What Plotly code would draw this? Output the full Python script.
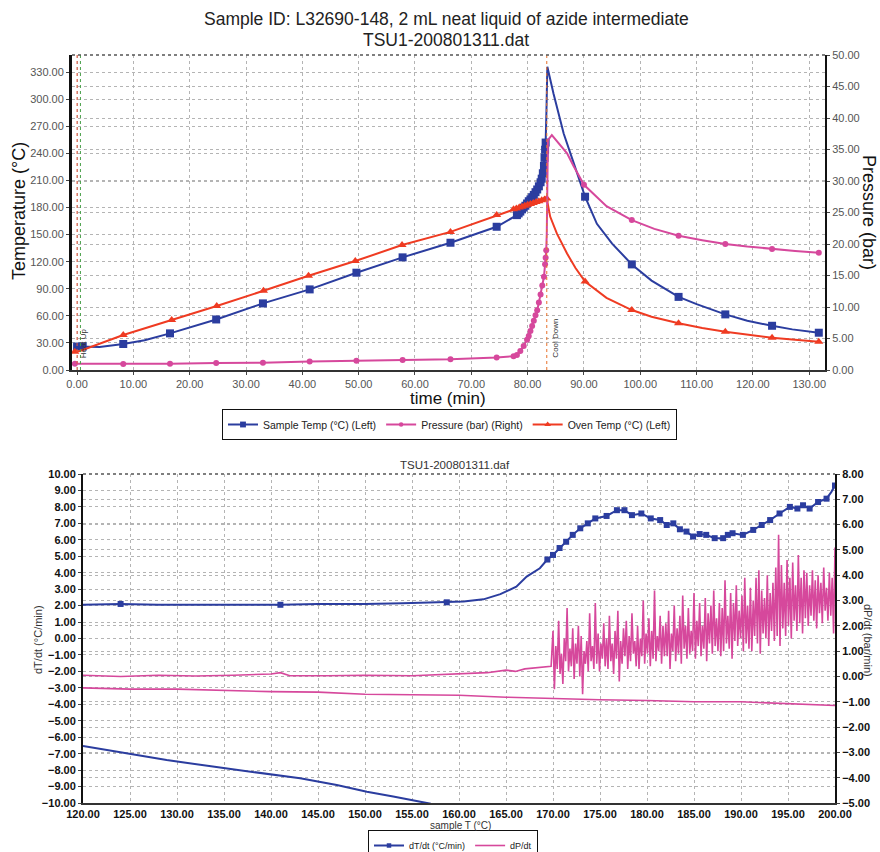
import plotly.graph_objects as go

# ---------------- Top chart data (time in min) ----------------
sample_time = [0, 1, 4, 8.2, 12, 16.5, 24.7, 33.0, 41.3, 49.6, 57.8, 66.3, 74.5,
               78.1, 78.4, 78.7, 79.0, 79.3, 79.6, 79.9, 80.2, 80.5, 80.8, 81.1, 81.4,
               81.7, 82.0, 82.3, 82.5, 82.7, 82.9, 83.0, 83.1, 83.2, 83.35, 83.5,
               84.6, 86.4, 88.2, 89.9, 90.2, 92.3, 95, 98.5, 102, 106.8, 110, 115.1,
               119, 123.4, 127, 131.7]
sample_temp = [26, 26, 25.5, 28.8, 33, 40.6, 56, 73.8, 89.3, 107.8, 124.8, 141, 158.7,
               171.6, 173.5, 175.5, 178, 180, 182, 184.5, 187, 189, 191.5, 194, 197,
               200, 203.5, 208, 212, 218, 226, 235, 244, 252, 290, 336,
               306, 262, 229, 196, 192, 162, 140, 117, 99, 81, 73, 61.6,
               54.5, 49, 45, 41.3]
sample_marked = [0, 1, 8.2, 16.5, 24.7, 33.0, 41.3, 49.6, 57.8, 66.3, 74.5,
                 78.1, 78.4, 78.7, 79.0, 79.3, 79.6, 79.9, 80.2, 80.5, 80.8, 81.1, 81.4,
                 81.7, 82.0, 82.3, 82.5, 82.7, 82.9, 83.0, 83.1, 83.2,
                 90.2, 98.5, 106.8, 115.1, 123.4, 131.7]

oven_time = [-0.4, 0.5, 8.2, 16.8, 24.8, 33.1, 41.1, 49.4, 57.7, 66.3, 74.5, 77.5,
             78.0, 78.5, 79.0, 79.5, 80.0, 80.5, 81.0, 81.5, 82.0, 82.5, 83.0, 83.4,
             84.0, 85.2, 87.0, 88.5, 90.2, 94, 98.5, 102, 106.8, 111, 115.1, 119,
             123.4, 127.5, 131.7]
oven_temp = [20.3, 21, 38.8, 55.4, 70.9, 87.8, 104.5, 120.7, 138.4, 153, 171.6, 178,
             179, 180, 181, 182, 183, 184, 185, 186, 187, 188, 189, 190,
             170, 151, 129, 113, 98, 80, 66.4, 59, 51.7, 46.5, 42.4, 39,
             35.8, 33.5, 31.4]
oven_marked = [-0.4, 8.2, 16.8, 24.8, 33.1, 41.1, 49.4, 57.7, 66.3, 74.5, 77.5,
               78.0, 78.5, 79.0, 79.5, 80.0, 80.5, 81.0, 81.5, 82.0, 82.5, 83.0, 83.4,
               90.2, 98.5, 106.8, 115.1, 123.4, 131.7]

press_time = [-0.4, 8.2, 16.5, 24.7, 33.0, 41.3, 49.6, 57.8, 66.3, 74.5, 77.5,
              78.1, 78.7, 79.3, 79.9, 80.2, 80.5, 80.8, 81.1, 81.4, 81.7, 82.0, 82.3,
              82.6, 82.9, 83.1, 83.2, 83.3, 83.4, 83.5, 83.6, 84.3, 85.5, 87.0,
              88.2, 90.0, 94, 98.5, 102.5, 106.8, 111, 115.1, 119, 123.4, 127.5, 131.7]
press_bar = [1.0, 0.95, 1.0, 1.1, 1.15, 1.35, 1.45, 1.6, 1.7, 2.0, 2.2,
             2.4, 3.0, 3.8, 4.8, 5.4, 6.2, 7.0, 7.8, 8.7, 9.5, 10.7, 12.0,
             13.4, 14.8, 16.8, 17.8, 19.0, 21.7, 28, 36.5, 37.3, 36, 34.4,
             32.3, 29.4, 26, 23.8, 22.4, 21.3, 20.6, 20.0, 19.6, 19.2, 18.9, 18.6]
press_marked = [-0.4, 8.2, 16.5, 24.7, 33.0, 41.3, 49.6, 57.8, 66.3, 74.5, 77.5,
                78.1, 78.7, 79.3, 79.9, 80.2, 80.5, 80.8, 81.1, 81.4, 81.7, 82.0, 82.3,
                82.6, 82.9, 83.1, 83.2, 83.3, 90.0, 98.5, 106.8, 115.1, 123.4, 131.7]

# ---------------- Bottom chart data (sample T in °C) ----------------
dtdt_T = [120, 124, 128, 132, 136, 141, 145, 150, 154, 158.7, 160.5, 162.6, 164.4,
          166.1, 167.2, 168.6, 169.4, 170.0, 170.7, 171.4, 172.1, 172.9, 173.7, 174.5,
          175.7, 176.8, 177.6, 178.4, 179.4, 180.4, 181.4, 182.1, 182.8, 183.5, 184.2,
          184.9, 185.6, 186.3, 187.2, 188.1, 188.6, 189.1, 190.2, 191.3, 192.2, 193.1,
          194.1, 195.2, 196.0, 196.6, 197.3, 198.2, 199.1, 199.6, 200]
dtdt_val = [2.05, 2.1, 2.05, 2.05, 2.05, 2.05, 2.1, 2.1, 2.15, 2.2, 2.25, 2.38, 2.7,
            3.15, 3.76, 4.27, 4.8, 5.08, 5.5, 5.88, 6.3, 6.7, 7.0, 7.3,
            7.45, 7.8, 7.8, 7.5, 7.6, 7.3, 7.2, 6.9, 7.0, 6.64, 6.5,
            6.2, 6.35, 6.3, 6.1, 6.1, 6.3, 6.4, 6.3, 6.6, 6.9, 7.2,
            7.6, 8.0, 7.9, 8.1, 7.9, 8.3, 8.5, 8.9, 9.3]
dtdt_marked = [124, 141, 158.7, 169.4, 170.0, 170.7, 171.4, 172.1, 172.9, 173.7, 174.5,
               175.7, 176.8, 177.6, 178.4, 179.4, 180.4, 181.4, 182.1, 182.8, 183.5,
               184.2, 184.9, 185.6, 186.3, 187.2, 188.1, 188.6, 189.1, 190.2, 191.3,
               192.2, 193.1, 194.1, 195.2, 196.0, 196.6, 197.3, 198.2, 199.1, 200]

cool_dtdt_T = [120, 124, 128.9, 134, 139.5, 143.1, 147, 150.2, 153, 155.9, 157]
cool_dtdt_val = [-6.53, -6.9, -7.39, -7.8, -8.2, -8.5, -8.9, -9.31, -9.6, -9.96, -10.05]

dpdt_T = [120, 124, 128, 132, 136, 140, 141, 142, 146, 150, 155, 160, 163, 165, 166,
          167, 169.8,
          170.0, 170.15, 170.3, 170.45, 170.6, 170.75, 170.9, 171.05, 171.2, 171.35,
          171.5, 171.65, 171.8, 171.95, 172.1, 172.25, 172.4, 172.55, 172.7, 172.85,
          173.0, 173.15, 173.3, 173.45, 173.6, 173.75, 173.9, 174.05, 174.2, 174.35,
          174.5, 174.65, 174.8, 174.95, 175.1, 175.25, 175.4, 175.55, 175.7, 175.85,
          176.0, 176.15, 176.3, 176.45, 176.6, 176.75, 176.9, 177.05, 177.2, 177.35,
          177.5, 177.65, 177.8, 177.95, 178.1, 178.25, 178.4, 178.55, 178.7, 178.85,
          179.0, 179.15, 179.3, 179.45, 179.6, 179.75, 179.9, 180.05, 180.2, 180.35,
          180.5, 180.65, 180.8, 180.95, 181.1, 181.25, 181.4, 181.55, 181.7, 181.85,
          182.0, 182.15, 182.3, 182.45, 182.6, 182.75, 182.9, 183.05, 183.2, 183.35,
          183.5, 183.65, 183.8, 183.95, 184.1, 184.25, 184.4, 184.55, 184.7, 184.85,
          185.0, 185.15, 185.3, 185.45, 185.6, 185.75, 185.9, 186.05, 186.2, 186.35,
          186.5, 186.65, 186.8, 186.95, 187.1, 187.25, 187.4, 187.55, 187.7, 187.85,
          188.0, 188.15, 188.3, 188.45, 188.6, 188.75, 188.9, 189.05, 189.2, 189.35,
          189.5, 189.65, 189.8, 189.95, 190.1, 190.25, 190.4, 190.55, 190.7, 190.85,
          191.0, 191.15, 191.3, 191.45, 191.6, 191.75, 191.9, 192.05, 192.2, 192.35,
          192.5, 192.65, 192.8, 192.95, 193.1, 193.25, 193.4, 193.55, 193.7, 193.85,
          194.0, 194.15, 194.3, 194.45, 194.6, 194.75, 194.9, 195.05, 195.2, 195.35,
          195.5, 195.65, 195.8, 195.95, 196.1, 196.25, 196.4, 196.55, 196.7, 196.85,
          197.0, 197.15, 197.3, 197.45, 197.6, 197.75, 197.9, 198.05, 198.2, 198.35,
          198.5, 198.65, 198.8, 198.95, 199.1, 199.25, 199.4, 199.55, 199.7, 199.85,
          200.0]
dpdt_val = [0.05, 0.0, 0.05, 0.02, 0.05, 0.1, 0.15, 0.03, 0.03, 0.05, 0.03, 0.1, 0.15,
            0.25, 0.2, 0.3, 0.4,
            1.8, -0.5, 1.2, 0.3, 2.2, 0.1, 0.9, -0.3, 1.5, 0.6,
            2.7, 0.2, 1.1, 0.4, 1.9, -0.1, 1.3, 0.5, 2.0, 0.0,
            1.6, -0.7, 1.0, 0.5, 1.4, 0.2, 2.5, 0.6, 1.2, 0.3,
            2.9, 0.5, 1.7, 0.2, 1.3, 0.7, 2.1, 0.4, 1.5, 0.3,
            2.4, 0.6, 1.3, 0.1, 1.8, 0.7, 2.6, -0.2, 1.4, 0.5,
            1.9, 0.8, 2.2, 0.3, 1.6, 0.6, 2.5, 0.9, 1.4, 0.4,
            2.0, 0.3, 1.5, 0.8, 3.0, 0.5, 1.7, 0.9, 2.3, 0.4,
            1.8, 0.7, 3.4, 0.6, 1.6, 1.0, 2.4, 0.5, 2.0, 0.8,
            2.1, 0.8, 2.6, 0.3, 1.7, 1.0, 2.8, 0.6, 1.9, 0.9,
            2.4, 0.5, 3.2, 1.1, 2.0, 0.7, 2.7, 0.9, 1.8, 1.0,
            3.3, 0.7, 2.2, 1.2, 2.9, 0.8, 2.0, 1.1, 3.1, 0.6,
            2.5, 1.3, 2.8, 0.9, 3.4, 1.2, 2.3, 1.0, 2.9, 0.8,
            2.7, 1.0, 3.8, 1.3, 2.4, 1.1, 3.3, 0.7, 2.9, 1.4,
            3.6, 1.2, 2.6, 1.5, 3.2, 1.0, 3.9, 1.3, 2.8, 1.1,
            3.5, 1.0, 3.0, 1.6, 3.9, 1.3, 4.2, 0.9, 3.4, 1.7,
            3.1, 1.5, 4.0, 1.2, 3.3, 1.8, 3.7, 1.4, 4.3, 1.6,
            5.6, 1.2, 4.4, 1.9, 3.7, 1.6, 4.6, 2.0, 3.9, 1.5,
            4.5, 2.2, 3.6, 1.8, 4.8, 2.1, 3.9, 1.7, 4.2, 2.3,
            4.1, 2.0, 3.6, 2.4, 4.2, 2.2, 3.8, 1.9, 4.0, 2.5,
            3.7, 2.1, 4.3, 2.6, 3.5, 2.2, 4.1, 2.4, 3.9, 1.7,
            5.1]

cool_dpdt_T = [120, 125, 130, 135, 140, 145, 150, 155, 160, 165, 170, 175, 180, 185,
               190, 195, 200]
cool_dpdt_val = [-0.45, -0.5, -0.5, -0.55, -0.6, -0.62, -0.7, -0.72, -0.74, -0.82,
                 -0.88, -0.92, -0.95, -1.0, -1.0, -1.08, -1.15]

# ---------------- Styling ----------------
BLUE = "#2b3d9f"
RED = "#ef3b22"
PINK = "#d6489c"
FONT = "Liberation Sans, Arial, sans-serif"
GRID = "#b4b4b4"


def sizes(xs, marked, s):
    m = set(marked)
    return [s if x in m else 0 for x in xs]


fig = go.Figure()

fig.add_trace(go.Scatter(
    x=sample_time, y=sample_temp, name="Sample Temp (°C) (Left)",
    mode="lines+markers", line=dict(color=BLUE, width=2),
    marker=dict(symbol="square", color=BLUE, opacity=1, line=dict(width=0),
                size=sizes(sample_time, sample_marked, 8)),
    xaxis="x", yaxis="y", legend="legend"))
fig.add_trace(go.Scatter(
    x=press_time, y=press_bar, name="Pressure (bar) (Right)",
    mode="lines+markers", line=dict(color=PINK, width=2),
    marker=dict(symbol="circle", color=PINK, opacity=1, line=dict(width=0),
                size=sizes(press_time, press_marked, 6)),
    xaxis="x", yaxis="y2", legend="legend"))
fig.add_trace(go.Scatter(
    x=oven_time, y=oven_temp, name="Oven Temp (°C) (Left)",
    mode="lines+markers", line=dict(color=RED, width=2),
    marker=dict(symbol="triangle-up", color=RED, opacity=1, line=dict(width=0),
                size=sizes(oven_time, oven_marked, 8)),
    xaxis="x", yaxis="y", legend="legend"))

fig.add_trace(go.Scatter(
    x=dtdt_T, y=dtdt_val, name="dT/dt (°C/min)",
    mode="lines+markers", line=dict(color=BLUE, width=2),
    marker=dict(symbol="square", color=BLUE, opacity=1, line=dict(width=0),
                size=sizes(dtdt_T, dtdt_marked, 6)),
    xaxis="x3", yaxis="y3", legend="legend2"))
fig.add_trace(go.Scatter(
    x=cool_dtdt_T, y=cool_dtdt_val, name="dT/dt cool", showlegend=False,
    mode="lines", line=dict(color=BLUE, width=2),
    xaxis="x3", yaxis="y3"))
fig.add_trace(go.Scatter(
    x=dpdt_T, y=dpdt_val, name="dP/dt",
    mode="lines", line=dict(color=PINK, width=1.6),
    xaxis="x3", yaxis="y4", legend="legend2"))
fig.add_trace(go.Scatter(
    x=cool_dpdt_T, y=cool_dpdt_val, name="dP/dt cool", showlegend=False,
    mode="lines", line=dict(color=PINK, width=1.6),
    xaxis="x3", yaxis="y4"))

top_x = [72 / 880, 825 / 880]
top_y = [1 - 370 / 852, 1 - 55 / 852]
bot_x = [83 / 880, 835 / 880]
bot_y = [1 - 803 / 852, 1 - 474 / 852]

tick_top = dict(family=FONT, size=11, color="#555555")
tick_bot = dict(family=FONT, size=11, color="#111111", weight="bold")

common = dict(showgrid=True, gridcolor=GRID, griddash="dot", gridwidth=1,
              zeroline=False, tickformat=".2f", ticks="outside", ticklen=3,
              automargin=False)

fig.update_layout(
    width=880, height=852,
    margin=dict(l=0, r=0, t=0, b=0, autoexpand=False),
    paper_bgcolor="white", plot_bgcolor="white",
    font=dict(family=FONT),
    xaxis=dict(domain=top_x, range=[-0.9, 132.8], dtick=10, tick0=0,
               anchor="y", showline=True, linecolor="#333333", linewidth=2,
               tickfont=tick_top, **common),
    yaxis=dict(domain=top_y, range=[0, 349], dtick=30, tick0=0, anchor="x",
               showline=True, linecolor="#111111", linewidth=3,
               tickfont=tick_top, **common),
    yaxis2=dict(range=[0, 50], dtick=5, tick0=0, overlaying="y", side="right",
                anchor="x", showline=True, linecolor="#111111", linewidth=2,
                tickfont=tick_top, **common),
    xaxis3=dict(domain=bot_x, range=[120, 200], dtick=5, tick0=120, anchor="y3",
                showline=True, linecolor="#333333", linewidth=2,
                tickfont=tick_bot, **dict(common, ticklen=0)),
    yaxis3=dict(domain=bot_y, range=[-10, 10], dtick=1, tick0=0, anchor="x3",
                showline=True, linecolor="#111111", linewidth=2,
                tickfont=tick_bot, **common),
    yaxis4=dict(range=[-5, 8], dtick=1, tick0=0, overlaying="y3", side="right",
                anchor="x3", showline=True, linecolor="#111111", linewidth=2,
                tickfont=tick_bot, **common),
    legend=dict(orientation="h", x=222 / 880, y=1 - 409 / 852, xanchor="left",
                yanchor="top", bgcolor="white", bordercolor="#111111", borderwidth=1,
                font=dict(family=FONT, size=10.5, color="#222222"), itemwidth=30,
                tracegroupgap=0),
    legend2=dict(orientation="h", x=368 / 880, y=1 - 830 / 852, xanchor="left",
                 yanchor="top", bgcolor="white", bordercolor="#111111", borderwidth=1,
                 font=dict(family=FONT, size=9, color="#222222"), itemwidth=30),
    showlegend=True,
)


def note(text, px, py, size, color="#222222", angle=0):
    return dict(text=text, x=px / 880, y=1 - py / 852, xref="paper", yref="paper",
                xanchor="center", yanchor="middle", showarrow=False, textangle=angle,
                font=dict(family=FONT, size=size, color=color))


ann = [
    note("Sample ID: L32690-148, 2 mL neat liquid of azide intermediate", 446, 19, 17.5),
    note("TSU1-200801311.dat", 446, 40, 17.5),
    note("Temperature (°C)", 19, 211, 18, "#111111", -90),
    note("Pressure (bar)", 869, 212, 18, "#111111", 90),
    note("time (min)", 448, 399, 17, "#111111"),
    note("TSU1-200801311.daf", 455, 465, 11.5, "#333333"),
    note("dT/dt (°C/min)", 38, 640, 11, "#333333", -90),
    note("dP/dt (bar/min)", 868, 640, 11, "#333333", 90),
    note("sample T (°C)", 460, 825, 10, "#333333"),
    dict(text="Heat Up", x=1.3, y=30, xref="x", yref="y", showarrow=False,
         textangle=-90, font=dict(family=FONT, size=8, color="#333333")),
    dict(text="Cool Down", x=84.9, y=35, xref="x", yref="y", showarrow=False,
         textangle=-90, font=dict(family=FONT, size=8, color="#333333")),
]
fig.update_layout(annotations=ann)

shapes = [
    # event lines
    dict(type="line", xref="x", yref="paper", x0=0, x1=0, y0=top_y[0], y1=top_y[1],
         line=dict(color="#e8553a", width=1, dash="dot")),
    dict(type="line", xref="x", yref="paper", x0=0.6, x1=0.6, y0=top_y[0], y1=top_y[1],
         line=dict(color="#4aa04a", width=1, dash="dot")),
    dict(type="line", xref="x", yref="paper", x0=83.4, x1=83.4, y0=top_y[0], y1=top_y[1],
         line=dict(color="#e8702a", width=1, dash="dot")),
    # top borders (dotted)
    dict(type="line", xref="paper", yref="paper", x0=top_x[0], x1=top_x[1],
         y0=top_y[1], y1=top_y[1], line=dict(color="#555555", width=1.5, dash="dot")),
    dict(type="line", xref="paper", yref="paper", x0=bot_x[0], x1=bot_x[1],
         y0=bot_y[1], y1=bot_y[1], line=dict(color="#555555", width=1.5, dash="dot")),
]
fig.update_layout(shapes=shapes)

fig.write_html("out.html", config={"displayModeBar": False},
               post_script="document.body.style.margin='0';"
                           "document.body.style.overflow='hidden';")
